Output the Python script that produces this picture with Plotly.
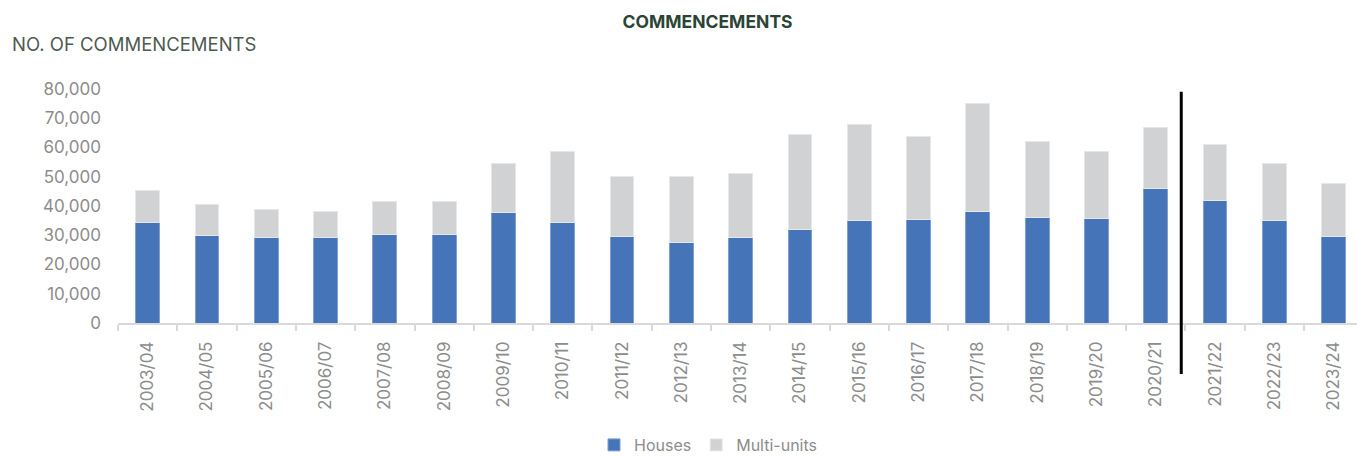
import plotly.graph_objects as go

# Financial years shown on the category axis
years = ["2003/04", "2004/05", "2005/06", "2006/07", "2007/08", "2008/09", "2009/10",
         "2010/11", "2011/12", "2012/13", "2013/14", "2014/15", "2015/16", "2016/17",
         "2017/18", "2018/19", "2019/20", "2020/21", "2021/22", "2022/23", "2023/24"]

# Commencements by dwelling type
houses = [34300, 29900, 29300, 29100, 30400, 30100, 37700, 34500, 29600, 27500, 29100,
          31800, 34900, 35300, 38100, 36100, 35600, 45900, 42000, 34900, 29700]
totals = [45200, 40400, 38900, 38200, 41400, 41500, 54700, 58600, 50000, 50200, 51100,
          64400, 67900, 63700, 75200, 61900, 58600, 66800, 61000, 54500, 47600]
multi_units = [t - h for t, h in zip(totals, houses)]

y_ticks = [0, 10000, 20000, 30000, 40000, 50000, 60000, 70000, 80000]

FONT = "Inter"
GREY_TEXT = "#8c8c8c"

fig = go.Figure()
fig.add_trace(go.Bar(
    x=years, y=houses, name="Houses",
    marker=dict(color="#4674b8", line=dict(color="#7f9fd0", width=1)),
))
fig.add_trace(go.Bar(
    x=years, y=multi_units, name="Multi-units",
    marker=dict(color="#d1d2d4", line=dict(color="#e6e7e8", width=1)),
))

W, H = 1357, 456
L, R, T, B = 118, 0, 89, 133
plot_w, plot_h = W - L - R, H - T - B

def px_x(px):
    return (px - L) / plot_w

def px_y(py):
    return (H - B - py) / plot_h

# Divider between actual and forecast years
fig.add_shape(type="line", xref="x", yref="paper",
              x0=17.43, x1=17.43, y0=px_y(91.7), y1=px_y(374),
              line=dict(color="#000000", width=3))

fig.add_annotation(text="NO. OF COMMENCEMENTS", xref="paper", yref="paper",
                   x=px_x(10), y=px_y(43.5), xanchor="left", yanchor="middle",
                   showarrow=False, font=dict(family=FONT, size=18.5, color="#4d5a4f"))

fig.update_layout(
    width=W, height=H,
    margin=dict(l=L, r=R, t=T, b=B, autoexpand=False),
    paper_bgcolor="white", plot_bgcolor="white",
    barmode="stack", bargap=0.6,
    title=dict(text="<b>COMMENCEMENTS</b>", x=0.5214, xanchor="center",
               y=1 - 21.7 / H, yanchor="middle", xref="container", yref="container",
               font=dict(family=FONT, size=17.5, color="#2c4433")),
    font=dict(family=FONT, color=GREY_TEXT),
    showlegend=True,
    legend=dict(orientation="h", x=px_x(708), xanchor="center", y=px_y(445), yanchor="middle",
                font=dict(family=FONT, size=16, color=GREY_TEXT),
                traceorder="normal", itemwidth=30, tracegroupgap=0,
                bgcolor="rgba(0,0,0,0)"),
    xaxis=dict(type="category", range=[-0.5, (W - L) / ((1304 - 118) / 20) - 0.5],
               tickangle=-90, tickson="boundaries", ticks="outside", ticklen=6,
               tickcolor="#d9d9d9", tickwidth=1.5, showline=True, linecolor="#d9d9d9",
               linewidth=1.5, showgrid=False, ticklabelstandoff=10, automargin=False,
               tickfont=dict(family=FONT, size=17, color=GREY_TEXT)),
    yaxis=dict(range=[0, 80000], tickvals=y_ticks, tickformat=",", showgrid=False,
               zeroline=False, showline=False, ticks="", ticklabelstandoff=16,
               automargin=False,
               tickfont=dict(family=FONT, size=17, color=GREY_TEXT)),
)

fig.write_html("out.html")
